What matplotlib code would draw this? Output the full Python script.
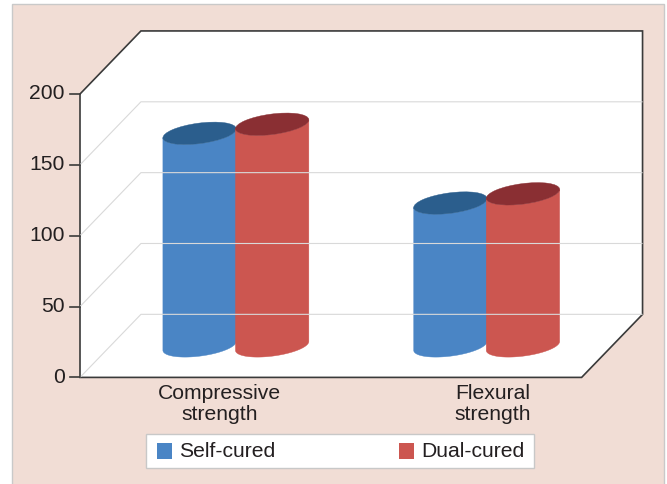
import numpy as np
import matplotlib.pyplot as plt
from matplotlib.patches import Polygon, Ellipse, Rectangle

categories = ['Compressive\nstrength', 'Flexural\nstrength']
series = ['Self-cured', 'Dual-cured']
self_cured = [150.0, 100.8]
dual_cured = [156.4, 107.3]
yticks = [0, 50, 100, 150, 200]

body_colors = ['#4a85c5', '#cc5650']
top_colors = ['#2b5e8d', '#8a2f33']
pink = '#f1ddd5'
frame_col = '#3a3a3a'
grid_col = '#d9d9d9'
txt_col = '#231f20'

plt.rcParams['font.family'] = ['Liberation Sans', 'DejaVu Sans']

# fake-3d geometry (value units, 1 unit = S pixels)
S = 1.417
X0, Y0 = 80, 377.4        # pixel position of the origin
W = 354.0                 # front wall width
DX, DY = 43.0, 44.5       # depth offset of back wall
A, B, ANG = 26.1, 7.2, 7.5  # cylinder cap ellipse
HALF = 25.6               # half spacing of the two cylinders
FS = 15.2


def px(x, y):
    return (x - X0) / S, (Y0 - y) / S


fig = plt.figure(figsize=(6.67, 4.84), dpi=100)
ax = fig.add_axes([0, 0, 1, 1])
ax.set_xlim(px(0, 0)[0], px(667, 0)[0])
ax.set_ylim(px(0, 484)[1], px(0, 0)[1])
ax.axis('off')

# background panel
ax.add_patch(Rectangle(px(12.5, 495), (663.5 - 12.5) / S, (495 - 4) / S,
                       fc=pink, ec='#c9c9c9', lw=1))

# plot area
top = yticks[-1]
outline = [(0, 0), (0, top), (DX, top + DY), (W + DX, top + DY), (W + DX, DY), (W, 0)]
ax.add_patch(Polygon(outline, closed=True, fc='white', ec='none'))

for v in yticks[:-1]:
    ax.plot([0, DX, W + DX], [v, v + DY, v + DY], color=grid_col, lw=0.8,
            solid_capstyle='butt')

ax.add_patch(Polygon(outline, closed=True, fc='none', ec=frame_col, lw=1.2,
                     joinstyle='miter'))

# ticks + labels
for v in yticks:
    ax.plot([-10 / S, 0], [v, v], color=frame_col, lw=1.2)
    ax.text(-15 / S, v, str(v), ha='right', va='center', fontsize=FS, color=txt_col)


def cylinder(cx, y0, y1, body, cap):
    th = np.radians(ANG)
    t0 = np.arctan(-(B / A) * np.tan(th))
    t = np.linspace(t0 + np.pi, t0 + 2 * np.pi, 80)
    ex = A * np.cos(t) * np.cos(th) - B * np.sin(t) * np.sin(th)
    ey = A * np.cos(t) * np.sin(th) + B * np.sin(t) * np.cos(th)
    xs = np.concatenate([cx + ex, cx + ex[::-1]])
    ys = np.concatenate([y0 + ey, y1 + ey[::-1]])
    ax.add_patch(Polygon(np.column_stack([xs, ys]), closed=True, fc=body, ec=body, lw=0.3))
    ax.add_patch(Ellipse((cx, y1), 2 * A, 2 * B, angle=ANG, fc=cap, ec=cap, lw=0.3))


cat_x = [W * (i + 0.5) / len(categories) for i in range(len(categories))]
for i, cx in enumerate(cat_x):
    mid = cx + DX / 2
    for j, vals in enumerate([self_cured, dual_cured]):
        bx = mid + (j - 0.5) * 2 * HALF
        cylinder(bx, DY / 2, vals[i] + DY / 2, body_colors[j], top_colors[j])
    ax.text(cx * 1.09 + 2, px(0, 384)[1], categories[i], ha='center', va='top',
            fontsize=FS, color=txt_col, linespacing=1.15)

# legend
ax.add_patch(Rectangle(px(145.7, 468.3), (534.3 - 145.7) / S, 34 / S,
                       fc='white', ec='#c8c8c8', lw=1))
for j, (lx, name) in enumerate(zip([157, 399], series)):
    ax.add_patch(Rectangle(px(lx, 459), 15 / S, 16 / S, fc=body_colors[j], ec='none'))
    ax.text(*px(lx + 22, 451.5), name, ha='left', va='center', fontsize=FS, color=txt_col)

fig.savefig('out.png', dpi=100)
